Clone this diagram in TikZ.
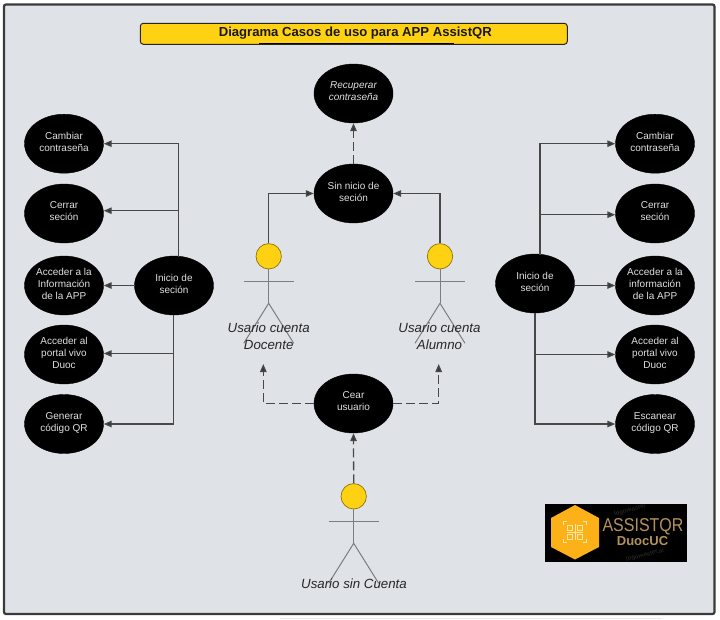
\documentclass[tikz,border=0pt]{standalone}
\usepackage{fontspec}
\usepackage{graphicx}
\setmainfont{Liberation Sans}
\usetikzlibrary{arrows.meta,shapes.geometric}
\definecolor{bgpanel}{HTML}{DFE3E8}
\definecolor{framec}{HTML}{3A3A3A}
\definecolor{yellowc}{HTML}{FFD113}
\definecolor{linec}{HTML}{484848}
\definecolor{actorc}{HTML}{7C7E80}
\definecolor{hexc}{HTML}{FBB117}
\definecolor{goldtxt}{HTML}{B4935A}
\definecolor{paleq}{HTML}{FFE9A8}
\definecolor{wmark}{HTML}{242424}
\newcommand{\nudgeup}{\\[-8pt]\mbox{}}
\tikzset{
  usecase/.style={ellipse,fill=black,draw=black,inner sep=0pt,minimum width=79pt,minimum height=59pt,
    text=white!88!black,align=center,font=\fontsize{10}{12}\selectfont},
  conn/.style={draw=linec,line width=1.3pt,-{Triangle[length=8pt,width=6.5pt,fill=black!80]}},
  dashconn/.style={conn,dash pattern=on 9pt off 4pt},
  actorhead/.style={circle,fill=yellowc,draw=yellowc!55!black,line width=.7pt,inner sep=0pt,minimum size=25.4pt},
  actorline/.style={draw=actorc,line width=1pt},
  actorlabel/.style={align=center,text=black!85,font=\fontsize{13.3}{16.5}\selectfont\itshape},
  titlebox/.style={draw=black!85,fill=yellowc,line width=1pt,rounded corners=3pt,minimum width=427pt,minimum height=21pt,
    inner sep=0pt},
  titletext/.style={inner sep=0pt,font=\fontsize{13.1}{16}\selectfont\bfseries,text=black!90},
  wmtext/.style={text=wmark,font=\fontsize{6}{7}\selectfont\bfseries,rotate=14},
  qrpart/.style={draw=paleq,line width=.8pt}
}
\newcommand{\actorfig}[3]{% name, x, head y
  \node[actorhead] (#1) at (#2,#3) {};
  \coordinate (#1arml) at (#2-25,#3+24.7);
  \coordinate (#1armr) at (#2+25,#3+24.7);
  \coordinate (#1hip) at (#2,#3+47);
  \coordinate (#1legl) at (#2-25,#3+87);
  \coordinate (#1legr) at (#2+25,#3+87);
  \draw[actorline] (#1.south) -- (#1hip);
  \draw[actorline] (#1arml) -- (#1armr);
  \draw[actorline] (#1legl) -- (#1hip) -- (#1legr);
}
\begin{document}
\begin{tikzpicture}[x=1pt,y=-1pt]
\useasboundingbox (0,0) rectangle (720,619);
\fill[white] (0,0) rectangle (720,619);
\fill[black!8] (280,617.5) rectangle (662,619);
\draw[draw=framec,fill=bgpanel,line width=2.2pt,rounded corners=2pt] (4,4.5) rectangle (714.5,614);

% title
\node[titlebox] (titleframe) at (353.8,33.8) {};
\node[titletext] (title) at (355.3,33.5) {Diagrama Casos de uso para APP AssistQR};
\coordinate (ulA) at (259,43.6);
\coordinate (ulB) at (454,43.6);
\draw[black,line width=1.4pt] (ulA) -- (ulB);

% use cases left
\node[usecase] (cambL) at (64,143.7) {Cambiar\\contraseña\nudgeup};
\node[usecase] (cerrL) at (64,213.5) {Cerrar\\seción\nudgeup};
\node[usecase] (infoL) at (64,285.5) {Acceder a la\\Información\\de la APP\nudgeup};
\node[usecase] (portL) at (64,354.5) {Acceder al\\portal vivo\\Duoc\nudgeup};
\node[usecase] (qrL) at (64,424) {Generar\\código QR\nudgeup};
\node[usecase] (iniL) at (174,285.5) {Inicio de\\seción\nudgeup};

% use cases right
\node[usecase] (cambR) at (655,143.7) {Cambiar\\contraseña\nudgeup};
\node[usecase] (cerrR) at (655,213.5) {Cerrar\\seción\nudgeup};
\node[usecase] (infoR) at (655,285.5) {Acceder a la\\información\\de la APP\nudgeup};
\node[usecase] (portR) at (655,354.5) {Acceder al\\portal vivo\\Duoc\nudgeup};
\node[usecase] (qrR) at (655,424) {Escanear\\código QR\nudgeup};
\node[usecase] (iniR) at (535,283.5) {Inicio de\\seción\nudgeup};

% use cases centre
\node[usecase,font=\fontsize{10}{12}\selectfont\itshape] (recu) at (353.5,93.5) {Recuperar\\contraseña\nudgeup};
\node[usecase] (sin) at (353.5,193.5) {Sin nicio de\\seción\nudgeup};
\node[usecase] (crear) at (353.5,403.5) {Cear\\usuario\nudgeup};

% actors
\actorfig{docente}{268.7}{256.3}
\actorfig{alumno}{440}{256.3}
\actorfig{nocuenta}{353.7}{496.3}
\node[actorlabel] (docenteL) at (268.7,336) {Usario cuenta\\Docente};
\node[actorlabel] (alumnoL) at (439.5,336) {Usario cuenta\\Alumno};
\node[actorlabel] (nocuentaL) at (354,584) {Usario sin Cuenta};

% left connectors
\coordinate (jLtop) at (178.5,256.5);
\coordinate (jLcerr) at (178.5,210.7);
\coordinate (jLbot) at (173.5,315);
\coordinate (jLport) at (173.5,353.5);
\draw[conn] (jLtop) |- (cambL.east);
\draw[conn] (jLcerr) -- (cerrL.east |- jLcerr);
\draw[conn] (iniL.west) -- (infoL.east);
\draw[conn] (jLbot) |- (qrL.east);
\draw[conn] (jLport) -- (portL.east |- jLport);

% right connectors
\coordinate (jRtop) at (540,254.5);
\coordinate (jRcerr) at (540,214.7);
\coordinate (jRbot) at (535,313);
\coordinate (jRport) at (535,354.5);
\draw[conn] (jRtop) |- (cambR.west);
\draw[conn] (jRcerr) -- (cerrR.west |- jRcerr);
\draw[conn] (iniR.east |- infoR.west) -- (infoR.west);
\draw[conn] (jRbot) |- (qrR.west);
\draw[conn] (jRport) -- (portR.west);

% centre connectors
\draw[dashconn] (sin.north) -- (recu.south);
\draw[conn] (docente.north) |- (sin.west);
\draw[conn] (alumno.north) |- (sin.east);
\coordinate (tipD) at (263.3,364);
\coordinate (tipA) at (438.7,364);
\draw[dashconn] (crear.west) -| (tipD);
\draw[dashconn] (crear.east) -| (tipA);
\draw[dashconn] (nocuenta.north) -- (crear.south);

% logo
\fill[black] (545,504) rectangle (687.3,561.7);
\node[wmtext] (wm1) at (630,510) {logomaster};
\node[wmtext] (wm2) at (645,555) {logomaster.ai};
\fill[hexc] (575,505) -- (599,518) -- (599,547) -- (575,559.5) -- (551,547) -- (551,518) -- cycle;
\draw[qrpart] (563.5,525) -- (563.5,521.5) -- (567,521.5);
\draw[qrpart] (583,521.5) -- (586.5,521.5) -- (586.5,525);
\draw[qrpart] (586.5,539) -- (586.5,542.5) -- (583,542.5);
\draw[qrpart] (567,542.5) -- (563.5,542.5) -- (563.5,539);
\draw[qrpart] (567.5,525) rectangle (572.5,530);
\draw[qrpart] (577.5,525) rectangle (582.5,530);
\draw[qrpart] (567.5,534) rectangle (572.5,539);
\draw[qrpart] (577.5,534) rectangle (582.5,539);
\draw[qrpart] (575,524) -- (575,540);
\draw[qrpart] (567,532) -- (583,532);
\node[text=goldtxt,inner sep=0pt,font=\fontsize{18.6}{20}\selectfont] (logoA) at (643,527) {\scalebox{.86}[1]{ASSISTQR}};
\node[text=goldtxt,inner sep=0pt,font=\fontsize{13}{15}\selectfont\bfseries] (logoB) at (642.5,541) {DuocUC};
\end{tikzpicture}
\end{document}
